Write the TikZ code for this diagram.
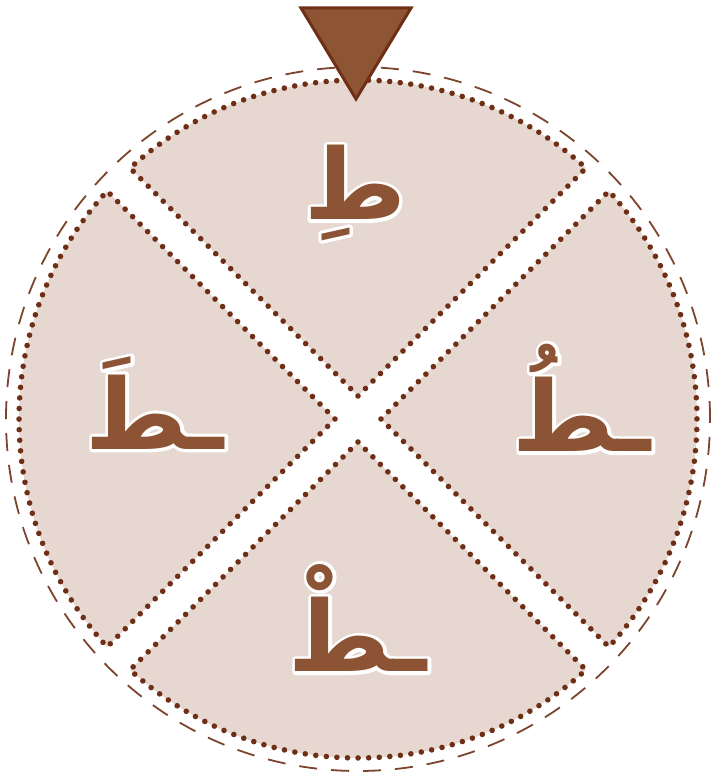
\documentclass[tikz,border=0pt]{standalone}
\usepackage{fontspec}
\newfontfamily\arabicfont[Script=Arabic]{DejaVu Sans}
\TeXXeTstate=1
\definecolor{wheelfill}{HTML}{E6D8D0}
\definecolor{dotbrown}{HTML}{6E2F16}
\definecolor{letterbrown}{HTML}{8C5434}
\definecolor{pointerbrown}{HTML}{8E5535}
\tikzset{
  sector/.style={fill=wheelfill},
  sectorrim/.style={draw=dotbrown, line width=5.6pt, line cap=round, dash pattern=on 0pt off 10.6pt},
  harakah/.style={font=\arabicfont\bfseries\fontsize{98}{110}\selectfont, text=letterbrown, inner sep=0pt}
}
% white halo under the letter, drawn with a stroked copy
\newcommand{\harf}[1]{\leavevmode\rlap{\special{pdf:literal direct 2 Tr 6.5 w 1 j}{\color{white}\beginR #1\endR}\special{pdf:literal direct 0 Tr 1 w}}\beginR #1\endR}

\begin{document}
\begin{tikzpicture}[x=1pt, y=1pt]
  \useasboundingbox (0,0) rectangle (715,776);
  \coordinate (c) at (358,357);
  % outer dashed ring
  \draw[dotbrown!90, line width=1.8pt, dash pattern=on 18pt off 14pt] (c) circle (352);
  % four sectors, pulled apart along their bisectors
  \foreach \t in {90,0,270,180} {
    \path[sector, shift={(c)}] (\t:23) -- ({\t-45+2.75}:339) arc[start angle={\t-45+2.75}, end angle={\t+45-2.75}, radius=339] -- cycle;
    \path[sectorrim, shift={(c)}] (\t:23) -- ({\t-45+2.75}:339) arc[start angle={\t-45+2.75}, end angle={\t+45-2.75}, radius=339] -- cycle;
  }
  % letters
  \node[harakah] (kasra) at (355,583) {\harf{طِ}};
  \node[harakah] (damma) at (582,378) {\harf{ـطُ}};
  \node[harakah] (sukun) at (358,158) {\harf{ـطْ}};
  \node[harakah] (fatha) at (155,373) {\harf{ـطَ}};
  % pointer
  \draw[fill=pointerbrown, draw=dotbrown, line width=3pt, line join=miter] (301,768) -- (411,768) -- (356,677) -- cycle;
\end{tikzpicture}
\end{document}
